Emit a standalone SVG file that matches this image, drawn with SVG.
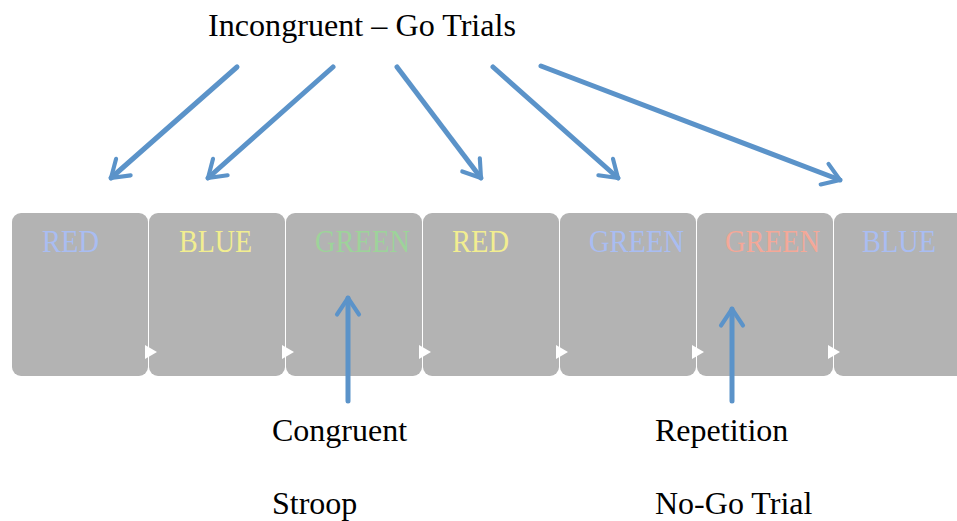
<svg xmlns="http://www.w3.org/2000/svg" width="957" height="521" viewBox="0 0 957 521">
<defs>
<style>
.box{fill:#b3b3b3}
.play{fill:#ffffff}
.w{font-family:"Liberation Serif","DejaVu Serif",serif;font-size:32px}
.lbl{font-family:"Liberation Serif","Times New Roman",serif;font-size:32px;fill:#000}
.arr{stroke:#5b93c9;stroke-width:5;fill:none;stroke-linecap:round}
</style>
<marker id="ah" viewBox="0 0 20 20" refX="16" refY="10" markerWidth="5.5" markerHeight="5.5" markerUnits="strokeWidth" orient="auto">
<path d="M4,2 L16,10 L4,18" fill="none" stroke="#5b93c9" stroke-width="3" stroke-linecap="round" stroke-linejoin="round"/>
</marker>
</defs>
<rect width="957" height="521" fill="#fff"/>
<g id="card1"><rect class="box" x="12" y="213" width="136" height="163" rx="9"/><text class="w" x="42" y="252" fill="#a9bdf2" textLength="57" lengthAdjust="spacingAndGlyphs">RED</text></g>
<g id="card2"><rect class="box" x="149" y="213" width="136" height="163" rx="9"/><text class="w" x="179" y="252" fill="#f2ee90" textLength="73" lengthAdjust="spacingAndGlyphs">BLUE</text></g>
<g id="card3"><rect class="box" x="286" y="213" width="136" height="163" rx="9"/><text class="w" x="315" y="252" fill="#9dd39a" textLength="95" lengthAdjust="spacingAndGlyphs">GREEN</text></g>
<g id="card4"><rect class="box" x="423" y="213" width="136" height="163" rx="9"/><text class="w" x="452" y="252" fill="#f2ee90" textLength="57" lengthAdjust="spacingAndGlyphs">RED</text></g>
<g id="card5"><rect class="box" x="560" y="213" width="136" height="163" rx="9"/><text class="w" x="589" y="252" fill="#a9bdf2" textLength="95" lengthAdjust="spacingAndGlyphs">GREEN</text></g>
<g id="card6"><rect class="box" x="697" y="213" width="136" height="163" rx="9"/><text class="w" x="725" y="252" fill="#f4a898" textLength="95" lengthAdjust="spacingAndGlyphs">GREEN</text></g>
<g id="card7"><rect class="box" x="834" y="213" width="136" height="163" rx="9"/><text class="w" x="862" y="252" fill="#a9bdf2" textLength="74" lengthAdjust="spacingAndGlyphs">BLUE</text></g>
<g id="plays">
<polygon class="play" points="145,345 157,352 145,359"/>
<polygon class="play" points="282,345 294,352 282,359"/>
<polygon class="play" points="419,345 431,352 419,359"/>
<polygon class="play" points="556,345 568,352 556,359"/>
<polygon class="play" points="692,345 704,352 692,359"/>
<polygon class="play" points="828,345 840,352 828,359"/>
</g>
<g id="title"><text class="lbl" x="208" y="36" textLength="308" lengthAdjust="spacingAndGlyphs">Incongruent – Go Trials</text></g>
<g id="congruent"><text class="lbl" x="272" y="441">Congruent</text><text class="lbl" x="272" y="514">Stroop</text></g>
<g id="repetition"><text class="lbl" x="655" y="441">Repetition</text><text class="lbl" x="655" y="514">No-Go Trial</text></g>
<g id="connectors">
<line class="arr" x1="237" y1="67" x2="111" y2="178" marker-end="url(#ah)"/>
<line class="arr" x1="333" y1="67" x2="208" y2="178" marker-end="url(#ah)"/>
<line class="arr" x1="397" y1="67" x2="481" y2="178" marker-end="url(#ah)"/>
<line class="arr" x1="493" y1="67" x2="618" y2="178" marker-end="url(#ah)"/>
<line class="arr" x1="541" y1="66" x2="840" y2="180" marker-end="url(#ah)"/>
<line class="arr" x1="348" y1="401" x2="348" y2="298" marker-end="url(#ah)"/>
<line class="arr" x1="732" y1="401" x2="732" y2="309" marker-end="url(#ah)"/>
</g>
</svg>
